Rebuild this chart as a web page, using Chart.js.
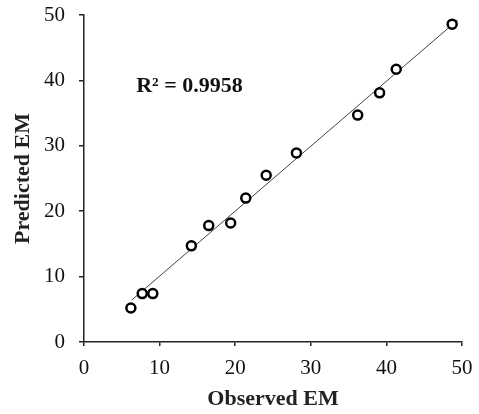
<!DOCTYPE html>
<html lang="en">

<head>
    <meta charset="UTF-8">
    <title>Observed vs Predicted EM</title>
    <style>
        html, body { margin: 0; padding: 0; background: #fff; }
        .container { width: 479px; height: 414px; }
    </style>
</head>

<body>
    <div class="container">
        <canvas id="grafico"></canvas>
    </div>

    <script src="https://cdn.jsdelivr.net/npm/chart.js"></script>
    <script>
        // valores
        let observado = [6.2, 7.7, 9.1, 14.2, 16.5, 19.4, 21.4, 24.1, 28.1, 36.2, 39.1, 41.3, 48.7]
        let predicho = [5.2, 7.4, 7.4, 14.7, 17.8, 18.2, 22.0, 25.5, 28.9, 34.7, 38.1, 41.7, 48.6]
        let lineaX = [6.3, 49.4]
        let lineaY = [6.4, 49.2]
        let ticks = [0, 10, 20, 30, 40, 50]
        let textoR2 = "R² = 0.9958"

        let puntos = observado.map((x, i) => ({ x: x, y: predicho[i] }))
        let tendencia = lineaX.map((x, i) => ({ x: x, y: lineaY[i] }))

        let fuente = "'Liberation Serif', 'Times New Roman', serif"

        let pluginR2 = {
            id: 'textoR2',
            afterDatasetsDraw(chart) {
                let ctx = chart.ctx
                let px = chart.scales.x.getPixelForValue(6.9)
                let py = chart.scales.y.getPixelForValue(39.1)
                ctx.save()
                ctx.font = "bold 22px " + fuente
                ctx.fillStyle = "#111"
                ctx.textBaseline = "middle"
                ctx.fillText(textoR2, px, py)
                ctx.restore()
            }
        }

        let canvaDom = document.querySelector("#grafico")
        new Chart(canvaDom, {
            type: 'scatter',
            data: {
                datasets: [{
                    data: tendencia,
                    showLine: true,
                    borderColor: "#444",
                    borderWidth: 1,
                    pointRadius: 0,
                    order: 2
                }, {
                    data: puntos,
                    borderColor: "#000",
                    backgroundColor: "#fff",
                    borderWidth: 2.5,
                    pointRadius: 4.5,
                    order: 1
                }]
            },
            plugins: [pluginR2],
            options: {
                responsive: true,
                maintainAspectRatio: false,
                animation: false,
                clip: false,
                layout: { padding: { top: 15, right: 17, left: 0, bottom: 1 } },
                plugins: { legend: { display: false }, tooltip: { enabled: false } },
                scales: {
                    x: {
                        min: 0, max: 50,
                        afterBuildTicks: (eje) => { eje.ticks = ticks.map(v => ({ value: v })) },
                        afterFit: (eje) => { eje.height = 71; eje.paddingLeft = 0; eje.paddingRight = 0 },
                        border: { display: true, color: "#222", width: 1.5 },
                        grid: { drawOnChartArea: false, tickLength: 4, color: "#222", lineWidth: 1.5 },
                        ticks: { color: "#111", padding: 10, font: { family: fuente, size: 21 }, maxRotation: 0 },
                        title: { display: true, text: "Observed EM", color: "#222", padding: { top: 0, bottom: 0 }, font: { family: fuente, size: 22, weight: 'bold' } }
                    },
                    y: {
                        min: 0, max: 50,
                        afterBuildTicks: (eje) => { eje.ticks = ticks.map(v => ({ value: v })) },
                        afterFit: (eje) => { eje.width = 84; eje.paddingTop = 0; eje.paddingBottom = 0 },
                        border: { display: true, color: "#222", width: 1.5 },
                        grid: { drawOnChartArea: false, tickLength: 5, color: "#222", lineWidth: 1.5 },
                        ticks: { color: "#111", padding: 14, font: { family: fuente, size: 21 } },
                        title: { display: true, text: "Predicted EM", color: "#222", padding: { top: 10, bottom: 10 }, font: { family: fuente, size: 22, weight: 'bold' } }
                    }
                }
            }
        })
    </script>
</body>

</html>
